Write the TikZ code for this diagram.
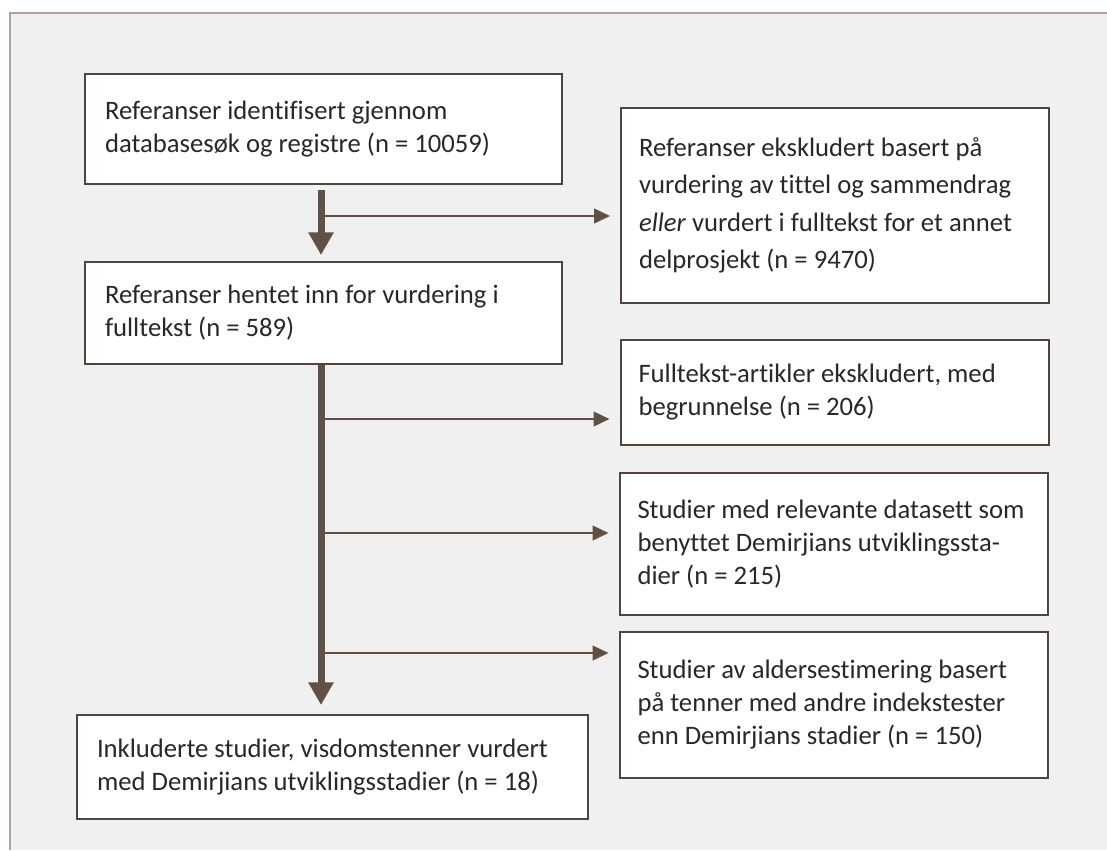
\documentclass[tikz,border=0pt]{standalone}
\usepackage{fontspec}
\setmainfont{Carlito}[Ligatures={NoCommon}]
\usetikzlibrary{arrows.meta,positioning}
\definecolor{framebg}{RGB}{240,240,240}
\definecolor{frameline}{RGB}{176,166,159}
\definecolor{boxline}{RGB}{82,68,60}
\definecolor{arrowbrown}{RGB}{96,80,70}
\definecolor{textgray}{RGB}{40,40,40}

\begin{document}
\begin{tikzpicture}[x=0.75pt, y=-0.75pt, >=Triangle, every node/.style={font=\fontsize{20}{24.75}\selectfont}]
  % boxes and arrows
  \tikzset{block/.style={draw=boxline, line width=1.5pt, fill=white, text=textgray, align=flush left, inner xsep=15pt, inner ysep=0pt}}
  \tikzset{sideblock/.style={block, text width=294pt, inner xsep=13.5pt}}
  \tikzset{mainarrow/.style={arrowbrown, line width=5.25pt, -{Triangle[length=17pt, width=18pt]}}}
  \tikzset{sidearrow/.style={arrowbrown, line width=1.9pt, -{Triangle[length=12pt, width=11pt]}, shorten >=7.5pt}}

  % background and frame
  \useasboundingbox (0,0) rectangle (1107,850);
  \fill[white] (0,0) rectangle (1107,850);
  \fill[framebg] (10,13) rectangle (1107,850);
  \draw[frameline, line width=1.5pt] (10,850) -- (10,13) -- (1107,13);

  % main column
  \node[block, text width=327.75pt, minimum height=82.5pt] (ident) at (323.5,129)
    {Referanser identifisert gjennom\\databasesøk og registre (n = 10059)};
  \node[block, text width=327.75pt, minimum height=76.5pt] (fetched) at (323.5,313)
    {Referanser hentet inn for vurdering i\\fulltekst (n = 589)};
  \node[block, text width=353.25pt, minimum height=78pt] (included) at (332.5,767)
    {Inkluderte studier, visdomstenner vurdert\\med Demirjians utviklingsstadier (n = 18)};

  % excluded column
  \node[sideblock, minimum height=146.25pt, font=\fontsize{20}{28}\selectfont] (excl1) at (835,205.5)
    {Referanser ekskludert basert på\\vurdering av tittel og sammendrag\\\textit{eller} vurdert i fulltekst for et annet\\delprosjekt (n = 9470)};
  \node[sideblock, minimum height=78.75pt] (excl2) at (834.5,392.5)
    {Fulltekst-artikler ekskludert, med\\begrunnelse (n = 206)};
  \node[sideblock, minimum height=106.5pt] (excl3) at (833.5,544)
    {Studier med relevante datasett som\\benyttet Demirjians utviklingssta-\\dier (n = 215)};
  \node[sideblock, minimum height=109.5pt] (excl4) at (833.5,705)
    {Studier av aldersestimering basert\\på tenner med andre indekstester\\enn Demirjians stadier (n = 150)};

  % spine and branch points
  \coordinate (spine) at (321,0);
  \coordinate (b1) at (321,216);
  \coordinate (b2) at (321,419);
  \coordinate (b3) at (321,533);
  \coordinate (b4) at (321,653);

  \draw[sidearrow] (b1) -- (b1 -| excl1.west);
  \draw[sidearrow] (b2) -- (b2 -| excl2.west);
  \draw[sidearrow] (b3) -- (b3 -| excl3.west);
  \draw[sidearrow] (b4) -- (b4 -| excl4.west);

  \draw[mainarrow, shorten <=3.75pt, shorten >=4.5pt] (ident.south -| spine) -- (fetched.north -| spine);
  \draw[mainarrow, shorten >=6.75pt] (fetched.south -| spine) -- (included.north -| spine);
\end{tikzpicture}
\end{document}
